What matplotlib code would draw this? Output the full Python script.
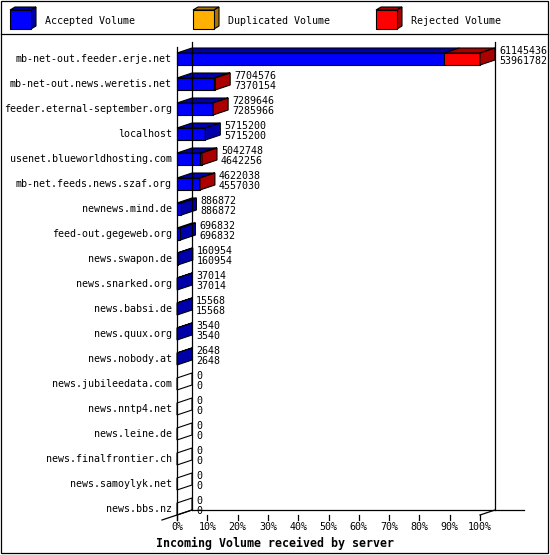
import matplotlib
matplotlib.use('Agg')
import matplotlib.pyplot as plt
from matplotlib.patches import Polygon, Rectangle

# incoming volume per peer (offered total / accepted), duplicates all zero
servers = [
    'mb-net-out.feeder.erje.net',
    'mb-net-out.news.weretis.net',
    'feeder.eternal-september.org',
    'localhost',
    'usenet.blueworldhosting.com',
    'mb-net.feeds.news.szaf.org',
    'newnews.mind.de',
    'feed-out.gegeweb.org',
    'news.swapon.de',
    'news.snarked.org',
    'news.babsi.de',
    'news.quux.org',
    'news.nobody.at',
    'news.jubileedata.com',
    'news.nntp4.net',
    'news.leine.de',
    'news.finalfrontier.ch',
    'news.samoylyk.net',
    'news.bbs.nz',
]
total_volume = [61145436, 7704576, 7289646, 5715200, 5042748, 4622038,
                886872, 696832, 160954, 37014, 15568, 3540, 2648,
                0, 0, 0, 0, 0, 0]
accepted_volume = [53961782, 7370154, 7285966, 5715200, 4642256, 4557030,
                   886872, 696832, 160954, 37014, 15568, 3540, 2648,
                   0, 0, 0, 0, 0, 0]
duplicated_volume = [0] * len(servers)
pct_ticks = [0, 10, 20, 30, 40, 50, 60, 70, 80, 90, 100]
tick_labels = ['%d%%' % t for t in pct_ticks]
legend_labels = ['Accepted Volume', 'Duplicated Volume', 'Rejected Volume']

W, H = 550, 555
colors = ['#0000ff', '#ffb000', '#ff0000']
shades = ['#0000aa', '#aa7500', '#aa0000']
mono = 'DejaVu Sans Mono'

fig = plt.figure(figsize=(W / 100, H / 100), dpi=100)

# decoration layer in pixel coords
deco = fig.add_axes([0, 0, 1, 1])
deco.set_xlim(0, W)
deco.set_ylim(H, 0)
deco.axis('off')
deco.add_patch(Rectangle((1, 1), W - 3, H - 3, fill=False, lw=0.9, ec='black'))
deco.plot([1, W - 2], [33.5, 33.5], color='black', lw=0.9)
for lx, lab, c, s in zip([10, 193, 376], legend_labels, colors, shades):
    deco.add_patch(Polygon([(lx, 10), (lx + 21, 10), (lx + 26, 7), (lx + 5, 7)],
                           fc=s, ec='black', lw=0.8))
    deco.add_patch(Polygon([(lx + 21, 10), (lx + 26, 7), (lx + 26, 26), (lx + 21, 29)],
                           fc=s, ec='black', lw=0.8))
    deco.add_patch(Rectangle((lx, 10), 21, 19, fc=c, ec='black', lw=0.8))
    deco.text(lx + 35, 20.5, lab, family=mono, fontsize=7.2, va='center', ha='left')
deco.text(W / 2, 543, 'Incoming Volume received by server', family=mono,
          fontsize=8.4, fontweight='bold', ha='center', va='center')

# data layer: x in percent of the largest total, y in rows
x0_px, x100_px = 177, 480
row0_px, row_px = 59, 25
pct_px = (x100_px - x0_px) / 100.0
ax = fig.add_axes([0, 0, 1, 1])
ax.patch.set_visible(False)
ax.set_xlim(-x0_px / pct_px, (W - x0_px) / pct_px)
ax.set_ylim((H - row0_px) / row_px, -row0_px / row_px)
ax.axis('off')

DX = 15 / pct_px        # depth offset, percent units
DY = 5 / row_px         # depth offset, row units
BH = 6 / row_px         # half bar height
top = -0.48
floor = len(servers) - 1 + BH

# frame
ax.plot([0, 0], [top, floor + 0.2], color='black', lw=0.9)
ax.plot([DX, DX], [top - DY, floor - DY], color='black', lw=0.9)
ax.plot([100 + DX, 100 + DX], [top - DY, floor - DY], color='black', lw=0.9)
ax.plot([DX, 100 + DX + 9.5], [floor - DY, floor - DY], color='black', lw=0.9)
ax.plot([-DX, DX], [floor + DY, floor - DY], color='black', lw=0.9)
ax.plot([100, 100 + DX], [floor, floor - DY], color='black', lw=0.9)
for t, lab in zip(pct_ticks, tick_labels):
    ax.plot([t, t], [floor, floor + 0.2], color='black', lw=0.9)
    ax.text(t, floor + 0.48, lab, family=mono, fontsize=7.2, ha='center', va='center')

vmax = float(max(total_volume))
for i, name in enumerate(servers):
    tot, acc, dup = total_volume[i], accepted_volume[i], duplicated_volume[i]
    rej = tot - acc - dup
    ax.text(-5 / pct_px, i, name, family=mono, fontsize=7.2, ha='right', va='center')
    yt, yb = i - BH, i + BH
    end = 100 * tot / vmax
    if tot == 0:
        ax.add_patch(Polygon([(0, yt), (DX, yt - DY), (DX, yb - DY), (0, yb)],
                             fc='white', ec='black', lw=0.8))
    else:
        left = 0.0
        last = 0
        for k, v in enumerate([acc, dup, rej]):
            if v <= 0:
                continue
            right = left + 100 * v / vmax
            ax.add_patch(Polygon([(left, yt), (right, yt), (right + DX, yt - DY),
                                  (left + DX, yt - DY)], fc=shades[k], ec='black', lw=0.8))
            ax.add_patch(Rectangle((left, yt), right - left, 2 * BH,
                                   fc=colors[k], ec='black', lw=0.8))
            left = right
            last = k
        ax.add_patch(Polygon([(end, yt), (end + DX, yt - DY), (end + DX, yb - DY),
                              (end, yb)], fc=shades[last], ec='black', lw=0.8))
    tx = end + DX + 4 / pct_px
    ax.text(tx, i - 8.3 / row_px, str(tot), family=mono, fontsize=7.2, ha='left', va='center')
    ax.text(tx, i + 2 / row_px, str(acc), family=mono, fontsize=7.2, ha='left', va='center')

fig.savefig('out.png', dpi=100)
